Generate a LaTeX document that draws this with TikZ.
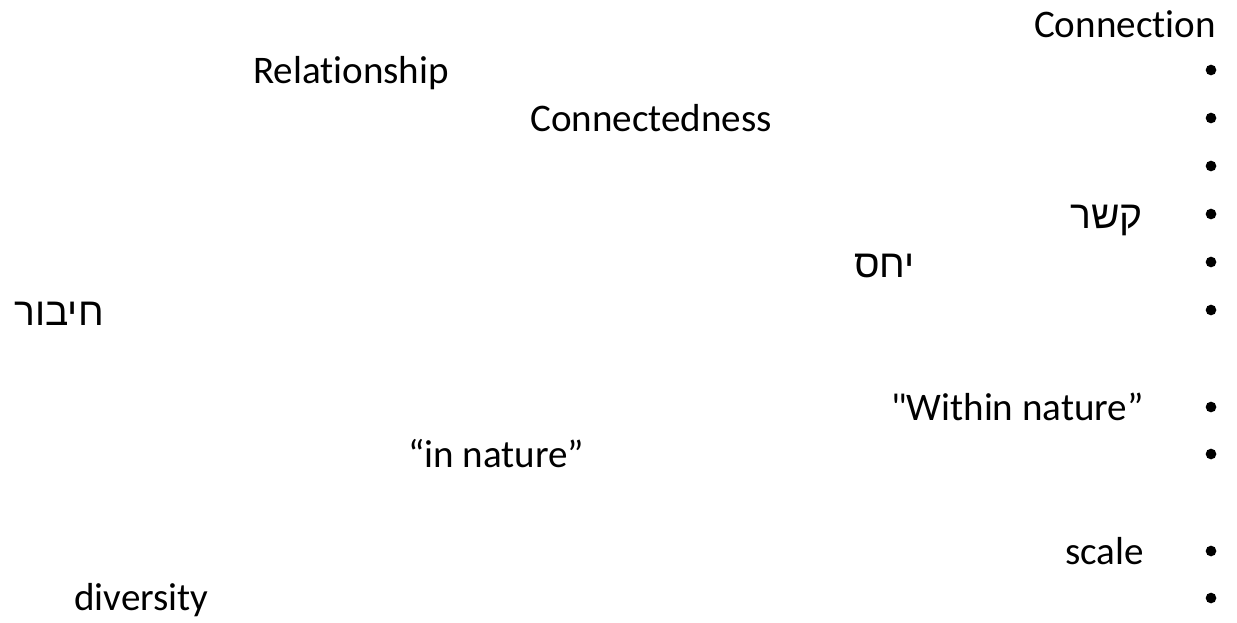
\documentclass[tikz,border=0pt]{standalone}
\usepackage{fontspec}
\setmainfont{Carlito}[Ligatures={TeXOff,CommonOff}]
\newfontfamily\hebfont[Script=Hebrew]{Liberation Sans}
\TeXXeTstate=1
\begin{document}
\begin{tikzpicture}[x=0.75pt,y=-0.75pt,
  txt/.style={inner sep=0pt,font=\fontsize{29.3}{36}\selectfont},
  heb/.style={inner sep=0pt,font=\fontsize{29.3}{36}\selectfont\hebfont},
  bul/.style={circle,fill=black,inner sep=0pt,minimum size=8pt}]
\useasboundingbox (0,0) rectangle (1237,622);
% title
\node[txt,anchor=base east] (title) at (1216,37) {Connection};
% bullets
\foreach \n/\y in {b1/70,b2/118,b3/166,b4/214,b5/262,b6/310,b7/407,b8/454,b9/551,b10/598}
  \node[bul] (\n) at (1211,\y) {};
% items
\node[txt,anchor=base west] (rel) at (253,83) {Relationship};
\node[txt,anchor=base west] (conn) at (530,131) {Connectedness};
\node[heb,anchor=base east] (kesher) at (1143,228) {\beginR קשר\endR};
\node[heb,anchor=base west] (yahas) at (854,277) {\beginR יחס\endR};
\node[heb,anchor=base west] (hibur) at (14,325) {\beginR חיבור\endR};
\node[txt,anchor=base east] (within) at (1144,420) {"Within nature”};
\node[txt,anchor=base west] (innat) at (408,467) {“in nature”};
\node[txt,anchor=base east] (scale) at (1144,564) {scale};
\node[txt,anchor=base west] (div) at (74,610) {diversity};
\end{tikzpicture}
\end{document}
